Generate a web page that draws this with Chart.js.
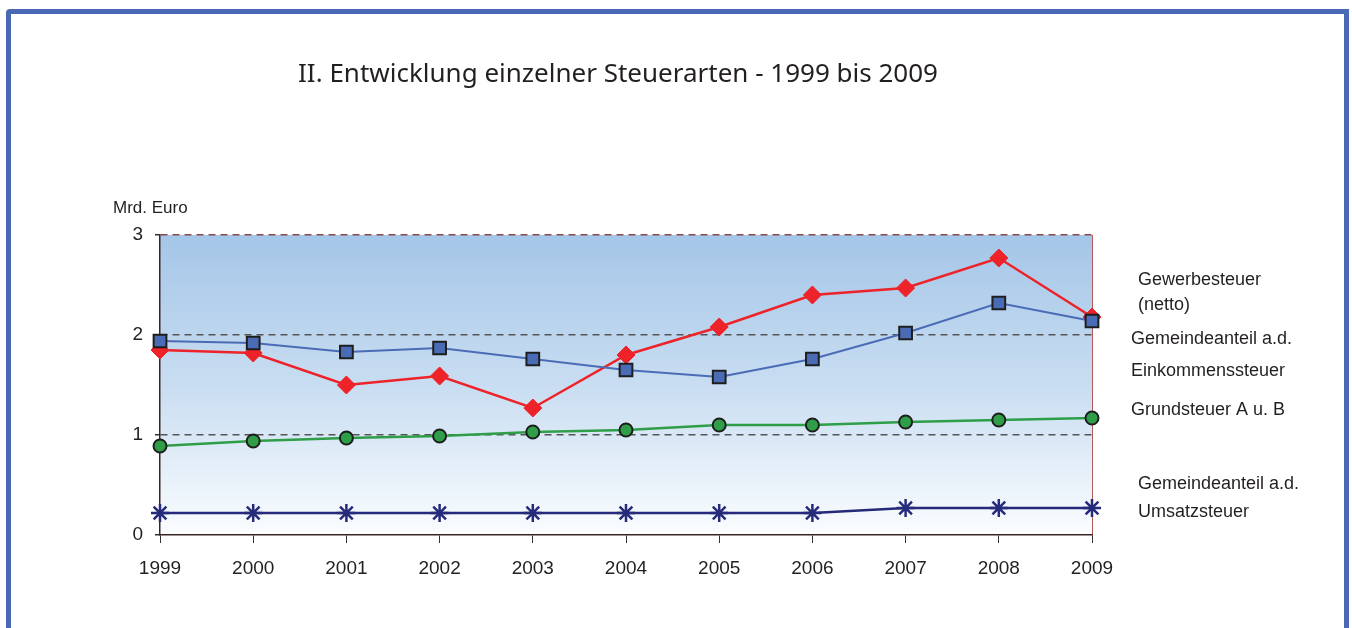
<!DOCTYPE html>
<html>
<head>
<meta charset="utf-8">
<script src="https://cdn.jsdelivr.net/npm/chart.js@4.4.1/dist/chart.umd.min.js"></script>
<style>
  html, body { margin: 0; padding: 0; background: #fff; overflow: hidden; }
  #frame {
    position: absolute; left: 6px; top: 9px; width: 1343px; height: 700px;
    box-sizing: border-box; border: 5px solid #4a68b4; border-top-left-radius: 4px;
  }
  #chart { position: absolute; left: 0; top: 0; }
</style>
</head>
<body>
<div id="frame"></div>
<canvas id="chart" width="1352" height="628"></canvas>
<script>
// Jahre und Werte (Mrd. Euro)
const years = ['1999', '2000', '2001', '2002', '2003', '2004', '2005', '2006', '2007', '2008', '2009'];
const gewerbesteuer = [1.85, 1.82, 1.50, 1.59, 1.27, 1.80, 2.08, 2.40, 2.47, 2.77, 2.18];
const einkommensteuer = [1.94, 1.92, 1.83, 1.87, 1.76, 1.65, 1.58, 1.76, 2.02, 2.32, 2.14];
const grundsteuer = [0.89, 0.94, 0.97, 0.99, 1.03, 1.05, 1.10, 1.10, 1.13, 1.15, 1.17];
const umsatzsteuer = [0.22, 0.22, 0.22, 0.22, 0.22, 0.22, 0.22, 0.22, 0.27, 0.27, 0.27];
const yTicks = [0, 1, 2, 3];

const titleText = 'II. Entwicklung einzelner Steuerarten - 1999 bis 2009';
const unitText = 'Mrd. Euro';
// Beschriftungen rechts neben dem Diagramm
const sideLabels = [
    { text: 'Gewerbesteuer', x: 1138, y: 280 },
    { text: '(netto)', x: 1138, y: 305 },
    { text: 'Gemeindeanteil a.d.', x: 1131, y: 339 },
    { text: 'Einkommenssteuer', x: 1131, y: 371 },
    { text: 'Grundsteuer A u. B', x: 1131, y: 410 },
    { text: 'Gemeindeanteil a.d.', x: 1138, y: 484 },
    { text: 'Umsatzsteuer', x: 1138, y: 512 }
];

const textFont = '"Liberation Sans", Arial, sans-serif';

// Hintergrund-Verlauf und Rahmen rechts
const plotBg = {
    id: 'plotBg',
    beforeDraw(chart) {
        const { ctx, chartArea: a } = chart;
        const g = ctx.createLinearGradient(0, a.top, 0, a.bottom);
        g.addColorStop(0, '#a5c6e8');
        g.addColorStop(0.5, '#c8ddf1');
        g.addColorStop(1, '#fbfdff');
        ctx.save();
        ctx.fillStyle = g;
        ctx.fillRect(a.left, a.top, a.right - a.left, a.bottom - a.top);
        ctx.strokeStyle = '#b35a5a';
        ctx.lineWidth = 1;
        ctx.beginPath();
        ctx.moveTo(a.right + 0.5, a.top);
        ctx.lineTo(a.right + 0.5, a.bottom);
        ctx.stroke();
        ctx.restore();
    }
};

// Titel, Einheit und Beschriftungen
const texts = {
    id: 'texts',
    afterDraw(chart) {
        const ctx = chart.ctx;
        ctx.save();
        ctx.fillStyle = '#231f20';
        ctx.textBaseline = 'middle';
        ctx.textAlign = 'center';
        ctx.font = '26px "Noto Sans", "Open Sans", sans-serif';
        ctx.fillText(titleText, 618, 75);
        ctx.textAlign = 'left';
        ctx.font = '17px ' + textFont;
        ctx.fillText(unitText, 113, 208);
        ctx.font = '18px ' + textFont;
        sideLabels.forEach(l => ctx.fillText(l.text, l.x, l.y));
        ctx.restore();
    }
};

const ctx = document.getElementById('chart').getContext('2d');
new Chart(ctx, {
    type: 'line',
    data: {
        labels: years,
        datasets: [
            {
                label: 'Gemeindeanteil a.d. Einkommenssteuer',
                data: einkommensteuer,
                borderColor: '#4a6cb6',
                borderWidth: 2,
                pointStyle: 'rect',
                pointRadius: 9,
                pointBackgroundColor: '#4a6cb6',
                pointBorderColor: '#1e1e1e',
                pointBorderWidth: 2
            },
            {
                label: 'Gewerbesteuer (netto)',
                data: gewerbesteuer,
                borderColor: '#ee2229',
                borderWidth: 2.5,
                pointStyle: 'rectRot',
                pointRadius: 9,
                pointBackgroundColor: '#ee2229',
                pointBorderColor: '#ee2229',
                pointBorderWidth: 1
            },
            {
                label: 'Grundsteuer A u. B',
                data: grundsteuer,
                borderColor: '#2e9e48',
                borderWidth: 2.5,
                pointStyle: 'circle',
                pointRadius: 6.5,
                pointBackgroundColor: '#2e9e48',
                pointBorderColor: '#1e1e1e',
                pointBorderWidth: 2
            },
            {
                label: 'Gemeindeanteil a.d. Umsatzsteuer',
                data: umsatzsteuer,
                borderColor: '#262a7a',
                borderWidth: 2.5,
                pointStyle: 'star',
                pointRadius: 9,
                pointBackgroundColor: '#262a7a',
                pointBorderColor: '#262a7a',
                pointBorderWidth: 2.5
            }
        ]
    },
    options: {
        responsive: false,
        animation: false,
        layout: { padding: { left: 100, right: 260, top: 235, bottom: 43 } },
        plugins: {
            legend: { display: false },
            tooltip: { enabled: false }
        },
        elements: { line: { tension: 0 } },
        scales: {
            x: {
                offset: false,
                afterFit(scale) { scale.height = 50; },
                grid: {
                    drawOnChartArea: false,
                    drawTicks: true,
                    tickLength: 8,
                    tickColor: '#333',
                    tickWidth: 1
                },
                border: { color: '#3b2424', width: 1.5 },
                ticks: {
                    color: '#231f20',
                    font: { family: textFont, size: 19 },
                    padding: 14,
                    maxRotation: 0,
                    autoSkip: false
                }
            },
            y: {
                min: 0,
                max: 3,
                afterFit(scale) { scale.width = 60; },
                afterBuildTicks(scale) { scale.ticks = yTicks.map(v => ({ value: v })); },
                grid: {
                    color: c => c.tick.value === 0 ? 'rgba(0,0,0,0)' : (c.tick.value === 3 ? '#8a4a4a' : '#555555'),
                    lineWidth: 1.5,
                    tickLength: 5,
                    tickColor: '#333',
                    tickBorderDash: []
                },
                border: { color: '#3b2424', width: 1.5, dash: [7, 5] },
                ticks: {
                    color: '#231f20',
                    font: { family: textFont, size: 19 },
                    padding: 12
                }
            }
        }
    },
    plugins: [plotBg, texts]
});
</script>
</body>
</html>
